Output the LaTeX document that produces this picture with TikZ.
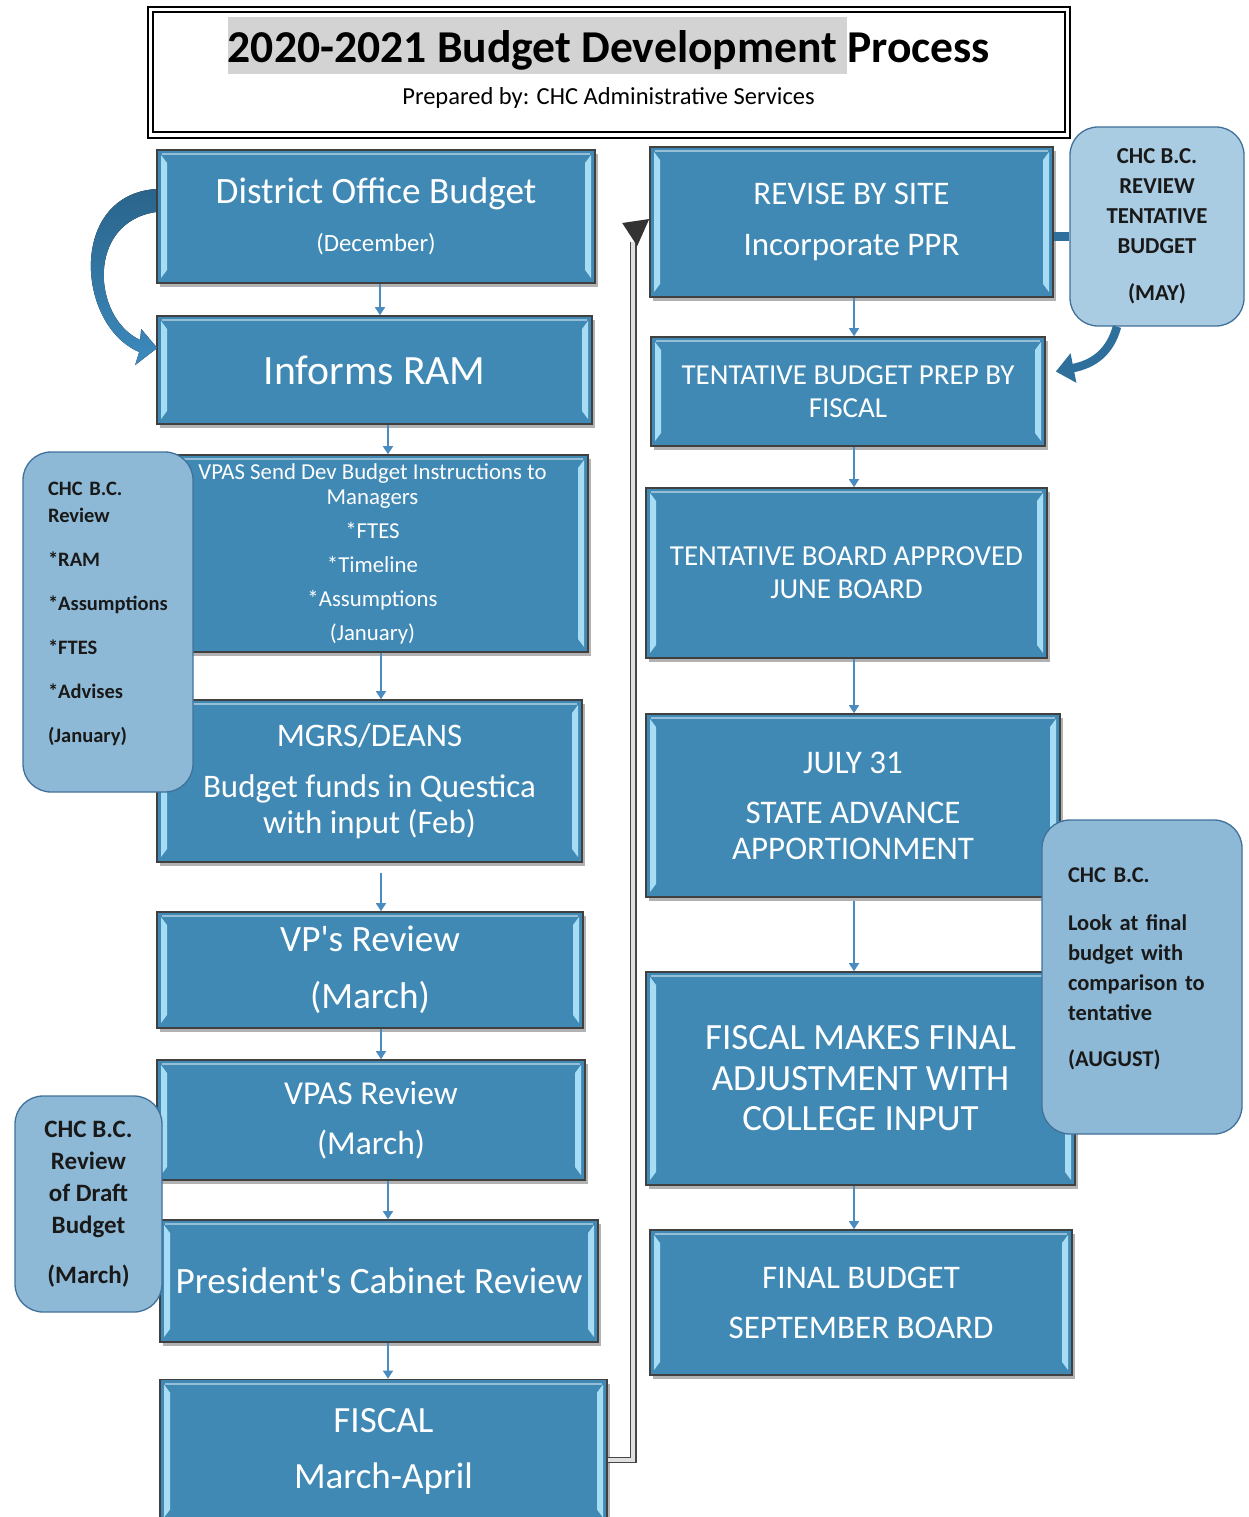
\documentclass[tikz,border=0pt]{standalone}
\usepackage{fontspec}
\setmainfont{Carlito}
\usetikzlibrary{arrows.meta,shadows}
\definecolor{boxblue}{HTML}{4089B5}
\definecolor{bevelc}{HTML}{A6DDF5}
\definecolor{callfill}{HTML}{8DB9D6}
\definecolor{calllight}{HTML}{A9CCE3}
\definecolor{calldraw}{HTML}{41719A}
\definecolor{connblue}{HTML}{4A8CBF}
\definecolor{curveblue}{HTML}{2F6F9C}
\definecolor{curvetop}{HTML}{2A648B}
\definecolor{curvebot}{HTML}{3C8ABD}
\definecolor{hl}{HTML}{D3D3D3}
\newcommand{\fs}[2]{\fontsize{#1}{#2}\selectfont}
\begin{document}
\begin{tikzpicture}[x=1pt,y=-1pt,
  bx/.style={draw=black!75, line width=1.6pt, fill=boxblue, text=white, align=center, inner sep=0pt,
    drop shadow={shadow xshift=3pt,shadow yshift=-4pt,fill=black,opacity=0.3},
    path picture={
      \fill[bevelc] ([xshift=4pt,yshift=-5pt]path picture bounding box.north west) -- ([xshift=10pt,yshift=-13pt]path picture bounding box.north west) -- ([xshift=10pt,yshift=13pt]path picture bounding box.south west) -- ([xshift=4pt,yshift=5pt]path picture bounding box.south west) -- cycle;
      \fill[bevelc] ([xshift=-4pt,yshift=-5pt]path picture bounding box.north east) -- ([xshift=-10pt,yshift=-13pt]path picture bounding box.north east) -- ([xshift=-10pt,yshift=13pt]path picture bounding box.south east) -- ([xshift=-4pt,yshift=5pt]path picture bounding box.south east) -- cycle;
      \draw[white!45!boxblue, line width=2pt] ([xshift=5pt,yshift=-4pt]path picture bounding box.north west) -- ([xshift=-5pt,yshift=-4pt]path picture bounding box.north east);
    }},
  callout/.style={draw=calldraw, line width=1.3pt, fill=callfill, rounded corners=28pt, inner sep=0pt, text=black!90},
  conn/.style={draw=connblue, line width=1.5pt, -{Triangle[length=8pt,width=10pt]}},
  greyline/.style={draw=gray!55!black, line width=1.4pt, double=gray!25, double distance=4pt},
]
\useasboundingbox[fill=white] (0,0) rectangle (1248,1517);

% title
\node[draw=black, line width=1.5pt, minimum width=922pt, minimum height=131pt, inner sep=0pt] (tbox) at (609,72.5) {};
\node[draw=black, line width=2pt, minimum width=912pt, minimum height=120pt, inner sep=0pt] (tboxin) at (609,72.5) {};
\node[anchor=base, font=\fs{45.6}{54}\bfseries, inner sep=0pt] (title) at (609,63)
  {{\setlength{\fboxsep}{0pt}\colorbox{hl}{\rule[-0.24em]{0pt}{1.24em}2020-2021 Budget Development\ }}Process};
\node[anchor=base, font=\fs{24.5}{28}, inner sep=0pt] (subtitle) at (608.5,105) {Prepared by: CHC Administrative Services};

% left column
\node[bx, minimum width=438pt, minimum height=133pt, font=\fs{37.2}{48}] (dob) at (376,216.5)
  {District Office Budget\\{\fs{24.8}{48}(December)}};
\node[bx, minimum width=435pt, minimum height=108pt, font=\fs{41.7}{48}] (ram) at (374.5,370) {Informs RAM};
\node[bx, minimum width=431pt, minimum height=197pt, font=\fs{22.8}{34}] (vpas) at (372.5,553.5)
  {VPAS Send Dev Budget Instructions to\\[-9pt]Managers\\{}*FTES\\{}*Timeline\\{}*Assumptions\\(January)};
\node[bx, minimum width=425pt, minimum height=162pt, font=\fs{32.9}{36}] (mgrs) at (369.5,781)
  {MGRS/DEANS\\[15pt]Budget funds in Questica\\with input (Feb)};
\node[bx, minimum width=426pt, minimum height=116pt, font=\fs{37.2}{57}] (vp) at (370,970) {VP\textquotesingle s Review\\(March)};
\node[bx, minimum width=428pt, minimum height=120pt, font=\fs{33.5}{50}] (vpasr) at (371,1120) {VPAS Review\\(March)};
\node[bx, minimum width=438pt, minimum height=122pt, font=\fs{37.2}{46}] (pres) at (379,1281) {President\textquotesingle s Cabinet Review};
\node[bx, minimum width=447pt, minimum height=143pt, font=\fs{37}{56}] (fiscal) at (383.5,1451) {FISCAL\\March-April};

% right column
\node[bx, minimum width=403pt, minimum height=150pt, font=\fs{33}{51}] (r1) at (851.5,222) {REVISE BY SITE\\Incorporate PPR};
\node[bx, minimum width=394pt, minimum height=109pt, font=\fs{29}{33}] (r2) at (848,391.5) {TENTATIVE BUDGET PREP BY\\FISCAL};
\node[bx, minimum width=401pt, minimum height=170pt, font=\fs{29}{33}] (r3) at (846.5,573) {TENTATIVE BOARD APPROVED\\JUNE BOARD};
\node[bx, minimum width=414pt, minimum height=183pt, font=\fs{33}{36}] (r4) at (853,805.5) {JULY 31\\[14pt]STATE ADVANCE\\APPORTIONMENT};
\node[bx, minimum width=429pt, minimum height=213pt, font=\fs{37}{40.5}] (r5) at (860.5,1078.5) {FISCAL MAKES FINAL\\ADJUSTMENT WITH\\COLLEGE INPUT};
\node[bx, minimum width=422pt, minimum height=145pt, font=\fs{33}{50}] (r6) at (861,1302.5) {FINAL BUDGET\\SEPTEMBER BOARD};

% callouts
\node[callout, minimum width=170pt, minimum height=340pt, text width=120pt, align=left, font=\fs{20.5}{44}\bfseries] (c1) at (108,622)
  {CHC B.C.\\[-17pt]Review\\{}*RAM\\{}*Assumptions\\{}*FTES\\{}*Advises\\(January)\\[-24pt]\mbox{}};
\node[callout, fill=calllight, minimum width=174pt, minimum height=199pt, align=center, font=\fs{22.8}{30}\bfseries] (c2) at (1157,226.5)
  {CHC B.C.\\REVIEW\\TENTATIVE\\BUDGET\\[17pt](MAY)};
\node[callout, minimum width=200pt, minimum height=314pt, text width=148pt, align=left, font=\fs{22.5}{30}\bfseries] (c3) at (1142,977)
  {CHC B.C.\\[18pt]Look at final\\budget with\\comparison to\\tentative\\[16pt](AUGUST)\\[-10pt]\mbox{}};
\node[callout, minimum width=147pt, minimum height=216pt, align=center, font=\fs{25}{32}\bfseries] (c4) at (88.5,1204)
  {CHC B.C.\\Review\\of Draft\\Budget\\[18pt](March)};

% thin connectors
\draw[conn] ([xshift=4pt]dob.south) -- ([xshift=4pt]dob.south |- ram.north);
\draw[conn] ([xshift=13.5pt]ram.south) -- ([xshift=13.5pt]ram.south |- vpas.north);
\draw[conn] ([xshift=8.5pt]vpas.south) -- ([xshift=8.5pt]vpas.south |- mgrs.north);
\draw[conn] ([xshift=11.5pt,yshift=-10pt]mgrs.south) -- ([xshift=11.5pt]mgrs.south |- vp.north);
\draw[conn] ([xshift=11pt]vp.south) -- ([xshift=11pt]vp.south |- vpasr.north);
\draw[conn] ([xshift=17pt]vpasr.south) -- ([xshift=17pt]vpasr.south |- pres.north);
\draw[conn] ([xshift=9pt]pres.south) -- ([xshift=9pt]pres.south |- fiscal.north);
\draw[conn] ([xshift=2.5pt]r1.south) -- ([xshift=2.5pt]r1.south |- r2.north);
\draw[conn] ([xshift=6pt]r2.south) -- ([xshift=6pt]r2.south |- r3.north);
\draw[conn] ([xshift=7.5pt]r3.south) -- ([xshift=7.5pt]r3.south |- r4.north);
\draw[conn] ([xshift=1pt,yshift=-3pt]r4.south) -- ([xshift=1pt]r4.south |- r5.north);
\draw[conn] ([xshift=-6.5pt]r5.south) -- ([xshift=-6.5pt]r5.south |- r6.north);

% curved block arrow, District Office Budget -> Informs RAM
\fill[top color=curvetop, bottom color=curvebot]
  ([yshift=27.5pt]dob.west) .. controls (68,195) and (76,325) .. ([xshift=-17pt,yshift=18pt]ram.west)
  -- ([xshift=-21pt,yshift=5pt]ram.west) -- ([xshift=1pt,yshift=22pt]ram.west)
  -- ([xshift=-15pt,yshift=41pt]ram.west) -- ([xshift=-16pt,yshift=30pt]ram.west)
  .. controls (92,318) and (86,222) .. ([yshift=4.5pt]dob.west) -- cycle;

% curved arrow from the May review to Tentative Budget Prep
\draw[draw=curveblue, line width=8.5pt, -{Triangle[length=18pt,width=29pt]}] ([xshift=-40pt]c2.south) .. controls (1110,352) and (1094,364) .. ([xshift=10pt,yshift=20pt]r2.east);
\draw[draw=curveblue, line width=9pt] ([yshift=-14pt]r1.east) -- ([yshift=-14pt]r1.east -| c2.west);

% grey elbow connector FISCAL -> REVISE BY SITE
\coordinate (gturn) at ([xshift=-16pt,yshift=-20pt]r1.west);
\draw[greyline] ([yshift=-9pt]fiscal.east) -| (gturn);
\fill[gray!40!black] ([xshift=-27pt,yshift=-1pt]r1.west) -- ([yshift=3pt]r1.west) -- ([xshift=-12pt,yshift=-24pt]r1.west) -- cycle;
\end{tikzpicture}
\end{document}
